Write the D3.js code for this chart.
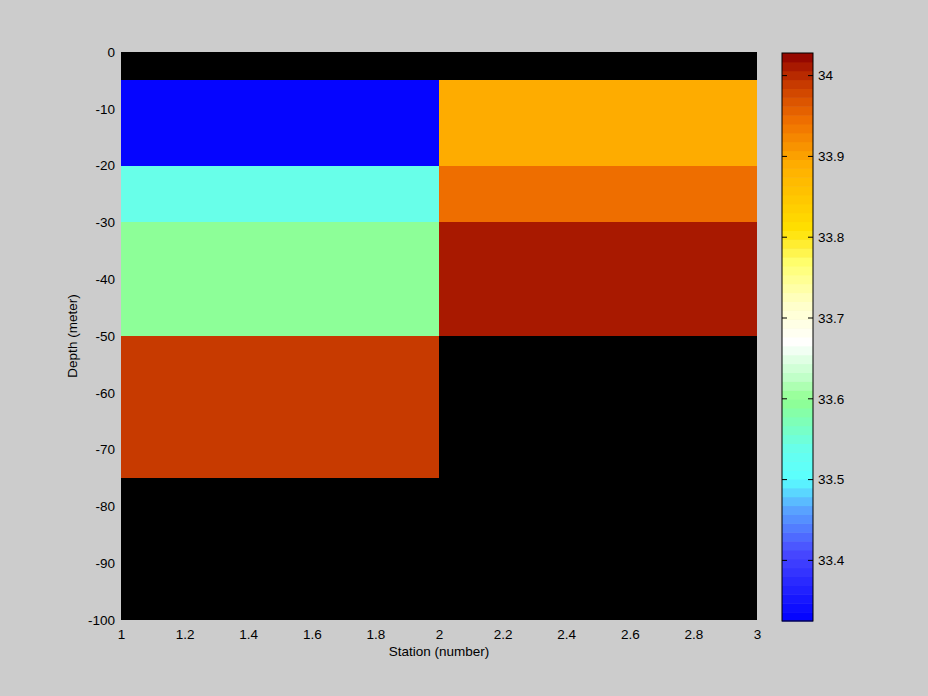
<!DOCTYPE html>
<html>
<head>
<meta charset="utf-8">
<script src="https://cdn.jsdelivr.net/npm/d3@7"></script>
<style>
  html, body { margin: 0; padding: 0; background: #cccccc; }
  svg { display: block; }
  text { font-family: "Liberation Sans", Arial, sans-serif; font-size: 13.5px; fill: #000; }
</style>
</head>
<body>
<svg id="chart" width="928" height="696"></svg>
<script>
// ---- data ----
const stationEdges = [1, 2, 3];
const depthEdges = [0, -5, -20, -30, -50, -75, -100];
// salinity per depth layer (null = no data, drawn black)
const station1Values = [null, 33.33, 33.535, 33.592, 33.985, null];
const station2Values = [null, 33.89, 33.944, 34.012, null, null];
const xTicks = [1, 1.2, 1.4, 1.6, 1.8, 2, 2.2, 2.4, 2.6, 2.8, 3];
const yTicks = [0, -10, -20, -30, -40, -50, -60, -70, -80, -90, -100];
const cbTicks = [33.4, 33.5, 33.6, 33.7, 33.8, 33.9, 34];
const colorRange = [33.325, 34.028];
const colormapStops = [
  [0.00, "#0000ff"], [0.12, "#4848ff"], [0.20, "#5aa8ff"], [0.25, "#5affff"],
  [0.30, "#66ffee"], [0.39, "#90ff90"], [0.43, "#c0ffc8"], [0.49, "#ffffff"],
  [0.56, "#ffffc8"], [0.63, "#ffff70"], [0.69, "#ffe000"], [0.76, "#ffc000"],
  [0.80, "#ffb000"], [0.88, "#f07000"], [0.94, "#cc4000"], [0.97, "#b02000"],
  [1.00, "#8c0000"]
];
const nColors = 64;

// ---- layout ----
const svg = d3.select("#chart");
const plot = { left: 121, right: 757, top: 52, bottom: 620 };
const cb = { left: 782, right: 813, top: 53, bottom: 621 };

const x = d3.scaleLinear().domain([1, 3]).range([plot.left, plot.right]);
const y = d3.scaleLinear().domain([0, -100]).range([plot.top, plot.bottom]);

const interp = d3.scaleLinear()
  .domain(colormapStops.map(d => d[0]))
  .range(colormapStops.map(d => d[1]))
  .interpolate(d3.interpolateRgb);
const colors = d3.range(nColors).map(i => interp((i + 0.5) / nColors));
function colorOf(v) {
  const t = (v - colorRange[0]) / (colorRange[1] - colorRange[0]);
  const i = Math.max(0, Math.min(nColors - 1, Math.floor(t * nColors)));
  return colors[i];
}
const fmt = d => String(d);

// plot background (NaN = black)
svg.append("rect")
  .attr("x", plot.left).attr("y", plot.top)
  .attr("width", plot.right - plot.left).attr("height", plot.bottom - plot.top)
  .attr("fill", "#000");

const cells = [];
[station1Values, station2Values].forEach((col, ci) => {
  col.forEach((v, ri) => {
    if (v !== null) cells.push({ x0: stationEdges[ci], x1: stationEdges[ci + 1], y0: depthEdges[ri], y1: depthEdges[ri + 1], v });
  });
});
svg.append("g").selectAll("rect").data(cells).join("rect")
  .attr("x", d => x(d.x0)).attr("width", d => x(d.x1) - x(d.x0))
  .attr("y", d => y(d.y0)).attr("height", d => y(d.y1) - y(d.y0))
  .attr("fill", d => colorOf(d.v))
  .attr("shape-rendering", "crispEdges");

// axes
const xAxis = svg.append("g").attr("transform", `translate(0,${plot.bottom})`)
  .call(d3.axisBottom(x).tickValues(xTicks).tickSize(0).tickPadding(9).tickFormat(fmt));
xAxis.select(".domain").remove();
const yAxis = svg.append("g").attr("transform", `translate(${plot.left},0)`)
  .call(d3.axisLeft(y).tickValues(yTicks).tickSize(0).tickPadding(6).tickFormat(fmt));
yAxis.select(".domain").remove();
svg.selectAll(".tick text").attr("font-family", null).attr("font-size", null).style("font-size", "13.5px");

svg.append("text").attr("x", (plot.left + plot.right) / 2).attr("y", 656)
  .attr("text-anchor", "middle").text("Station (number)");
svg.append("text").attr("transform", `translate(77,${(plot.top + plot.bottom) / 2}) rotate(-90)`)
  .attr("text-anchor", "middle").text("Depth (meter)");

// colorbar
const cy = d3.scaleLinear().domain(colorRange).range([cb.bottom, cb.top]);
const step = (colorRange[1] - colorRange[0]) / nColors;
svg.append("g").selectAll("rect").data(colors).join("rect")
  .attr("x", cb.left).attr("width", cb.right - cb.left)
  .attr("y", (d, i) => cy(colorRange[0] + (i + 1) * step))
  .attr("height", (d, i) => cy(colorRange[0] + i * step) - cy(colorRange[0] + (i + 1) * step) + 0.5)
  .attr("fill", d => d);
svg.append("rect").attr("x", cb.left).attr("y", cb.top)
  .attr("width", cb.right - cb.left).attr("height", cb.bottom - cb.top)
  .attr("fill", "none").attr("stroke", "#000").attr("stroke-width", 1);
const cbt = svg.append("g");
cbTicks.forEach(t => {
  cbt.append("line").attr("x1", cb.left).attr("x2", cb.left + 5).attr("y1", cy(t)).attr("y2", cy(t)).attr("stroke", "#000");
  cbt.append("line").attr("x1", cb.right - 5).attr("x2", cb.right).attr("y1", cy(t)).attr("y2", cy(t)).attr("stroke", "#000");
  cbt.append("text").attr("x", cb.right + 5).attr("y", cy(t)).attr("dy", "0.36em").text(fmt(t));
});
</script>
</body>
</html>
